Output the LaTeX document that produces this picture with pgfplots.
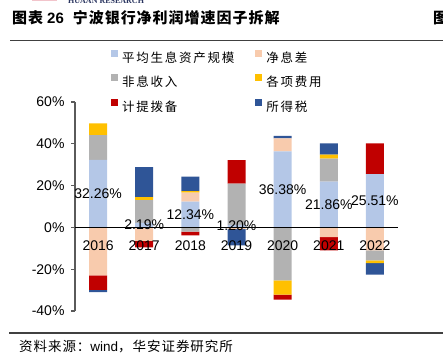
\documentclass[border=0pt]{standalone}
\usepackage{pgfplots}
\pgfplotsset{compat=1.18}
\usepackage{pgfplotstable}
\usepackage{fontspec}
\setmainfont{Liberation Sans}
\newfontfamily\cjk{Noto Sans CJK SC}
\newfontfamily\cjkleg[LetterSpace=14]{Noto Sans CJK SC}
\newfontfamily\cjktitle[LetterSpace=6.5]{Noto Sans CJK SC}
\newfontfamily\cjksrc[LetterSpace=7]{Noto Sans CJK SC}
\newfontfamily\serifhdr{Liberation Serif}

\definecolor{cLB}{HTML}{B4C7E7}
\definecolor{cPE}{HTML}{F8CBAD}
\definecolor{cGR}{HTML}{B2B2B2}
\definecolor{cYE}{HTML}{FFC000}
\definecolor{cRE}{HTML}{C00000}
\definecolor{cBL}{HTML}{2F5597}
\definecolor{rulecol}{HTML}{404040}
\definecolor{axcol}{HTML}{5A5A5A}
\definecolor{hdrpink}{HTML}{F2C4CB}
\definecolor{hdrblue}{HTML}{2A3560}

% year index, factor contributions (%), signed
\pgfplotstableread{
x lb nim nonint cost prov tax
0 32.26 -23.0 11.9 5.6 -6.9 -1.1
1 2.19 -6.5 10.8 1.5 -3.0 14.4
2 12.34 4.3 -2.0 0.7 -1.8 6.9
3 1.20 -0.8 19.8 0 11.2 -7.8
4 36.38 6.2 -25.4 -6.8 -2.4 1.2
5 21.86 -4.6 11.1 1.9 -6.4 5.3
6 25.51 -11.0 -4.8 -1.3 14.7 -5.5
}\data

\pgfplotsset{
  common/.style={scale only axis, width=323pt, height=209pt,
    at={(75pt,44pt)}, anchor=south west,
    xmin=-0.5, xmax=6.5, ymin=-40, ymax=60},
  sq/.style={legend image code/.code={\fill[##1] (0pt,1pt) rectangle (7pt,8pt);}},
}

\begin{document}
\begin{tikzpicture}
\useasboundingbox (0pt,0pt) rectangle (443pt,355pt);
% header
\fill[hdrpink] (32pt,353.5pt) rectangle (57pt,355pt);
\node[anchor=base west, inner sep=0pt, text=hdrblue, font=\serifhdr\bfseries\fontsize{8}{9}\selectfont] at (68pt,351.5pt) {HUAAN RESEARCH};
\node[anchor=base west, inner sep=0pt] at (12pt,331.5pt) {\cjktitle\bfseries\fontsize{15}{18}\selectfont 图表\hspace{4pt}{\normalfont\bfseries\fontsize{15}{18}\selectfont 26}\hspace{9pt}宁波银行净利润增速因子拆解};
\node[anchor=base west, inner sep=0pt] at (433pt,331.5pt) {\cjktitle\bfseries\fontsize{15}{18}\selectfont 图表};
\draw[rulecol, line width=1.2pt] (10pt,314.5pt) -- (443pt,314.5pt);
\draw[rulecol, line width=1.2pt] (9pt,22pt) -- (443pt,22pt);
\node[anchor=base west, inner sep=0pt] at (19pt,3.5pt) {\cjksrc\fontsize{13.5}{16}\selectfont 资料来源：{\normalfont\fontsize{13.5}{16}\selectfont wind}，华安证券研究所};

% positive parts + y axis + legend
\begin{axis}[common, ybar stacked, bar width=18pt,
  axis y line=left, axis x line=none,
  y axis line style={-, draw=axcol, line width=1.2pt},
  xtick=\empty,
  ytick={-40,-20,0,20,40,60},
  yticklabels={-40\%,-20\%,0\%,20\%,40\%,60\%},
  tick align=outside, major tick length=4pt,
  ytick style={draw=axcol, line width=1.2pt},
  yticklabel style={font=\fontsize{14}{16}\selectfont, xshift=-3pt},
  legend columns=2, legend cell align=left,
  legend style={at={(axis description cs:0.1115,1.252)}, anchor=north west,
    draw=none, fill=none, inner sep=0pt,
    font=\cjkleg\fontsize{12.5}{14}\selectfont,
    nodes={inner sep=0pt},
    /tikz/every odd column/.append style={column sep=4pt},
    /tikz/every even column/.append style={column sep=21pt},
    row sep=10.5pt},
]
\addplot[fill=cLB, draw=none, sq] table[x=x, y expr={max(\thisrow{lb},0)}]{\data};
\addlegendentry{平均生息资产规模}
\addplot[fill=cPE, draw=none, sq] table[x=x, y expr={max(\thisrow{nim},0)}]{\data};
\addlegendentry{净息差}
\addplot[fill=cGR, draw=none, sq] table[x=x, y expr={max(\thisrow{nonint},0)}]{\data};
\addlegendentry{非息收入}
\addplot[fill=cYE, draw=none, sq] table[x=x, y expr={max(\thisrow{cost},0)}]{\data};
\addlegendentry{各项费用}
\addplot[fill=cRE, draw=none, sq] table[x=x, y expr={max(\thisrow{prov},0)}]{\data};
\addlegendentry{计提拨备}
\addplot[fill=cBL, draw=none, sq] table[x=x, y expr={max(\thisrow{tax},0)}]{\data};
\addlegendentry{所得税}
\end{axis}

% negative parts
\begin{axis}[common, ybar stacked, bar width=18pt, hide axis]
\addplot[fill=cLB, draw=none] table[x=x, y expr={min(\thisrow{lb},0)}]{\data};
\addplot[fill=cPE, draw=none] table[x=x, y expr={min(\thisrow{nim},0)}]{\data};
\addplot[fill=cGR, draw=none] table[x=x, y expr={min(\thisrow{nonint},0)}]{\data};
\addplot[fill=cYE, draw=none] table[x=x, y expr={min(\thisrow{cost},0)}]{\data};
\addplot[fill=cRE, draw=none] table[x=x, y expr={min(\thisrow{prov},0)}]{\data};
\addplot[fill=cBL, draw=none] table[x=x, y expr={min(\thisrow{tax},0)}]{\data};
\end{axis}

% zero line, year labels, value labels
\begin{axis}[common, axis x line=middle, axis y line=none,
  x axis line style={-, black, line width=1.2pt},
  ytick=\empty, xtick={0,...,6},
  xticklabels={2016,2017,2018,2019,2020,2021,2022},
  major tick length=0pt,
  xticklabel style={font=\fontsize{14}{16}\selectfont, yshift=-10pt},
]
\addplot[draw=none, mark=none,
  point meta=\thisrow{lb},
  nodes near coords={\pgfmathprintnumber[fixed, precision=2, fixed zerofill, assume math mode=true]{\pgfplotspointmeta}\%},
  nodes near coords align=center,
  every node near coord/.append style={font=\fontsize{14}{16}\selectfont, inner sep=0pt, text=black}]
  table[x=x, y expr={\thisrow{lb}/2}]{\data};
\end{axis}
\end{tikzpicture}
\end{document}
